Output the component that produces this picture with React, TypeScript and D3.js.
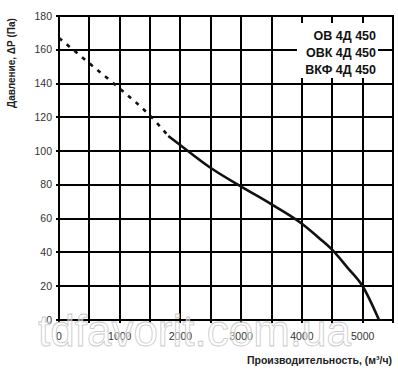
import React from "react";
import * as d3 from "d3";

const xTicks = [0, 1000, 2000, 3000, 4000, 5000];
const xGrid = [0, 500, 1000, 1500, 2000, 2500, 3000, 3500, 4000, 4500, 5000, 5500];
const yTicks = [0, 20, 40, 60, 80, 100, 120, 140, 160, 180];
const dashedFlow = [0, 500, 1000, 1500, 1800];
const dashedPressure = [167, 152, 137, 121, 109];
const solidFlow = [1800, 2000, 2500, 3000, 3500, 4000, 4300, 4500, 4750, 5000, 5270];
const solidPressure = [109, 103.5, 90, 79, 68.5, 57, 48, 41.5, 31, 20, 0];
const models = ["ОВ 4Д 450", "ОВК 4Д 450", "ВКФ 4Д 450"];
const yTitle = "Давление, ΔР (Па)";
const xTitle = "Производительность, (м³/ч)";
const watermark = "tdfavorit.com.ua";

export default function App() {
  const W = 398, H = 378;
  const x = d3.scaleLinear().domain([0, 5500]).range([59, 393]);
  const y = d3.scaleLinear().domain([0, 180]).range([320, 16]);
  const line = d3
    .line<[number, number]>()
    .x((d) => x(d[0]))
    .y((d) => y(d[1]))
    .curve(d3.curveMonotoneX);
  const dashed = dashedFlow.map((f, i) => [f, dashedPressure[i]] as [number, number]);
  const solid = solidFlow.map((f, i) => [f, solidPressure[i]] as [number, number]);
  const font = "'Liberation Sans', Arial, sans-serif";
  const gx = (v: number) => Math.round(x(v));
  const gy = (v: number) => Math.round(y(v));
  return (
    <svg
      width={W}
      height={H}
      style={{ position: "absolute", left: 0, top: 0, background: "#fff" }}
      fontFamily={font}
    >
      <rect x={0} y={0} width={W} height={H} fill="#fff" />
      <g stroke="#000" strokeWidth={2} shapeRendering="crispEdges">
        {xGrid.map((v) => (
          <line key={"gx" + v} x1={gx(v)} x2={gx(v)} y1={gy(180) - 1} y2={gy(0) + 3} />
        ))}
        {yTicks.map((v) => (
          <line key={"gy" + v} x1={gx(0) - 3} x2={gx(5500) + 1} y1={gy(v)} y2={gy(v)} />
        ))}
      </g>
      {/* label box */}
      <rect x={297} y={23} width={81} height={55} fill="#fff" />
      {models.map((m, i) => (
        <text
          key={m}
          x={376}
          y={39.5 + i * 17}
          textAnchor="end"
          fontSize={12.5}
          fontWeight="bold"
          fill="#111"
        >
          {m}
        </text>
      ))}
      {/* curve */}
      <path d={line(dashed) || ""} fill="none" stroke="#111" strokeWidth={2.6} strokeDasharray="4,6" />
      <path d={line(solid) || ""} fill="none" stroke="#111" strokeWidth={2.6} />
      {/* y tick labels */}
      {yTicks.map((v) => (
        <text key={"ty" + v} x={52} y={y(v) + 3.6} textAnchor="end" fontSize={10.5} fill="#333">
          {v}
        </text>
      ))}
      {/* x tick labels */}
      {xTicks.map((v) => (
        <text key={"tx" + v} x={x(v)} y={340} textAnchor="middle" fontSize={10.5} fill="#333">
          {v}
        </text>
      ))}
      {/* watermark */}
      <text
        x={38}
        y={346}
        fontSize={44}
        fill="#fff"
        fillOpacity={0.45}
        stroke="#c8c8c8"
        strokeWidth={0.8}
      >
        {watermark}
      </text>
      {/* axis titles */}
      <text
        transform={`translate(15, 63) rotate(-90)`}
        textAnchor="middle"
        fontSize={10}
        fontWeight="bold"
        fill="#222"
      >
        {yTitle}
      </text>
      <text x={392} y={364} textAnchor="end" fontSize={10.5} fontWeight="bold" fill="#222">
        {xTitle}
      </text>
    </svg>
  );
}
